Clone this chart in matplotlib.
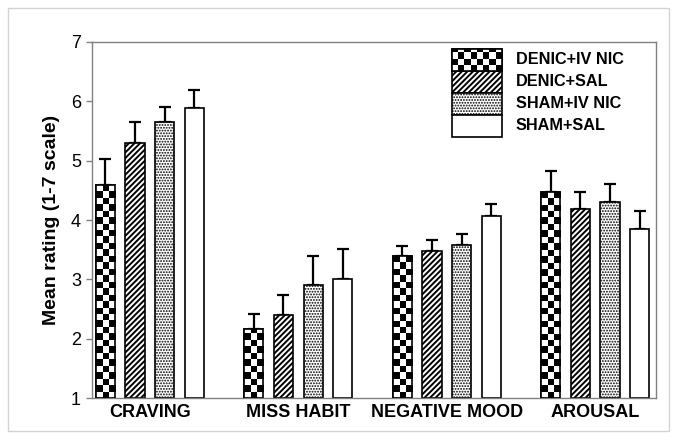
import numpy as np
import matplotlib
matplotlib.use('Agg')
import matplotlib.pyplot as plt
from matplotlib.patches import Rectangle

plt.rcParams['font.family'] = ['Liberation Sans', 'DejaVu Sans']

categories = ['CRAVING', 'MISS HABIT', 'NEGATIVE MOOD', 'AROUSAL']
groups = ['DENIC+IV NIC', 'DENIC+SAL', 'SHAM+IV NIC', 'SHAM+SAL']

denic_ivnic = [4.59, 2.17, 3.40, 4.48]
denic_sal = [5.30, 2.40, 3.48, 4.19]
sham_ivnic = [5.66, 2.90, 3.58, 4.30]
sham_sal = [5.88, 3.01, 4.06, 3.84]

err_denic_ivnic = [0.44, 0.25, 0.16, 0.34]
err_denic_sal = [0.36, 0.34, 0.18, 0.29]
err_sham_ivnic = [0.24, 0.50, 0.18, 0.31]
err_sham_sal = [0.31, 0.50, 0.21, 0.31]

yticks = [1, 2, 3, 4, 5, 6, 7]

series = [denic_ivnic, denic_sal, sham_ivnic, sham_sal]
errors = [err_denic_ivnic, err_denic_sal, err_sham_ivnic, err_sham_sal]
styles = ['checker', '//////', '......', '']
hatch_lw = [1.0, 1.4, 0.9, 1.0]

W, H = 679, 440
fig = plt.figure(figsize=(W / 100, H / 100), dpi=100)
fig.patches.append(Rectangle((8 / W, 9 / H), 661 / W, 423 / H, transform=fig.transFigure,
                             fill=False, edgecolor='#d4d4d4', linewidth=1.0))

ax = fig.add_axes([92 / W, 42 / H, 564 / W, 356 / H])
ax.set_xlim(-0.39, 3.41)
ax.set_ylim(1, 7)

x = np.arange(len(categories))
offsets = [-0.3, -0.1, 0.1, 0.3]
bw = 0.13


def checker(ax, x0, y0, w, h, transform, cell_px, ncols=None):
    p0 = transform.transform((x0, y0))
    p1 = transform.transform((x0 + w, y0 + h))
    wpx, hpx = abs(p1[0] - p0[0]), abs(p1[1] - p0[1])
    if ncols is None:
        ncols = max(1, int(round(wpx / cell_px)))
    cw_px = wpx / ncols
    nrows = int(np.ceil(hpx / cw_px))
    ch = h * (cw_px * nrows / hpx) / nrows if hpx > 0 else h
    arr = (np.add.outer(np.arange(nrows), np.arange(ncols)) % 2).astype(float)
    return arr, (x0, x0 + w, y0, y0 + ch * nrows)


for i, (vals, errs, st) in enumerate(zip(series, errors, styles)):
    pos = x + offsets[i]
    hatch = None if st in ('checker', '') else st
    with plt.rc_context({'hatch.linewidth': hatch_lw[i]}):
        bars = ax.bar(pos, np.array(vals) - 1, bottom=1, width=bw, color='white',
                      edgecolor='black', linewidth=1.2, hatch=hatch, zorder=2)
    ax.errorbar(pos, vals, yerr=[np.zeros(len(vals)), errs], fmt='none', ecolor='black',
                elinewidth=1.6, capsize=4, capthick=1.6, zorder=1)
    if st == 'checker':
        for b in bars:
            arr, ext = checker(ax, b.get_x(), b.get_y(), b.get_width(), b.get_height(),
                               ax.transData, 6.4, ncols=3)
            im = ax.imshow(arr, extent=ext, origin='lower', cmap='gray_r', vmin=0, vmax=1,
                           interpolation='nearest', zorder=2.5, aspect='auto')
            im.set_clip_path(b)
        ax.bar(pos, np.array(vals) - 1, bottom=1, width=bw, fill=False,
               edgecolor='black', linewidth=1.2, zorder=3)

ax.set_xlim(-0.39, 3.41)
ax.set_ylim(1, 7)
ax.set_aspect('auto')

ax.set_yticks(yticks)
ax.set_yticklabels([str(t) for t in yticks], fontsize=13)
ax.set_xticks(x)
ax.set_xticklabels(categories, fontsize=13, fontweight='bold')
ax.tick_params(axis='x', length=0, pad=4)
ax.tick_params(axis='y', length=4, width=1, color='#808080', pad=4)
for s in ax.spines.values():
    s.set_color('#808080')
    s.set_linewidth(1.0)

ax.set_ylabel('Mean rating (1-7 scale)', fontsize=14, fontweight='bold', labelpad=8)

# legend
lx0, lw = (452 - 92) / 564, 50 / 564
ph = 22 / 356
ltop = (398 - 49) / 356
for i, (g, st) in enumerate(zip(groups, styles)):
    y0 = ltop - (i + 1) * ph
    hatch = None if st in ('checker', '') else st
    with plt.rc_context({'hatch.linewidth': hatch_lw[i]}):
        r = Rectangle((lx0, y0), lw, ph, transform=ax.transAxes, facecolor='white',
                      edgecolor='black', linewidth=1.2, hatch=hatch, zorder=4, clip_on=False)
    ax.add_patch(r)
    if st == 'checker':
        arr, ext = checker(ax, lx0, y0, lw, ph, ax.transAxes, 6.4, ncols=8)
        im = ax.imshow(arr, extent=ext, origin='lower', cmap='gray_r', vmin=0, vmax=1,
                       interpolation='nearest', zorder=4.5, transform=ax.transAxes,
                       aspect='auto')
        im.set_clip_path(r)
        ax.add_patch(Rectangle((lx0, y0), lw, ph, transform=ax.transAxes, fill=False,
                               edgecolor='black', linewidth=1.2, zorder=5, clip_on=False))
    ax.text(lx0 + lw + 14 / 564, y0 + ph / 2, g, transform=ax.transAxes, fontsize=11.7,
            fontweight='bold', va='center', ha='left')

ax.set_xlim(-0.39, 3.41)
ax.set_ylim(1, 7)

fig.savefig('out.png', dpi=100)
